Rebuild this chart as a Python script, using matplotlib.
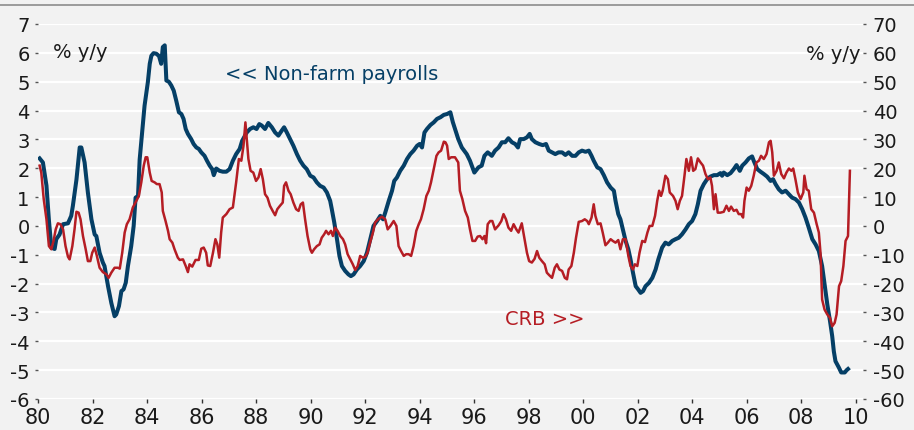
import numpy as np
import matplotlib
matplotlib.use("Agg")
import matplotlib.pyplot as plt
from matplotlib.lines import Line2D

plt.rcParams['axes.unicode_minus'] = False
plt.rcParams['font.family'] = ['DejaVu Sans']

# Non-farm payrolls, % y/y (left axis)
nfp_year = [1980.06, 1980.18, 1980.31, 1980.40, 1980.49, 1980.61, 1980.67, 1980.79, 1980.92, 1981.10,
            1981.22, 1981.28, 1981.41, 1981.53, 1981.59, 1981.71, 1981.83, 1981.96, 1982.08, 1982.14,
            1982.26, 1982.38, 1982.44, 1982.57, 1982.69, 1982.81, 1982.87, 1982.97, 1983.06, 1983.14,
            1983.22, 1983.30, 1983.42, 1983.51, 1983.58, 1983.67, 1983.73, 1983.83, 1983.91, 1984.03,
            1984.10, 1984.16, 1984.24, 1984.34, 1984.44, 1984.52, 1984.58, 1984.65, 1984.71, 1984.80,
            1984.89, 1984.98, 1985.07, 1985.17, 1985.26, 1985.34, 1985.42, 1985.50, 1985.62, 1985.71,
            1985.81, 1985.90, 1985.99, 1986.11, 1986.20, 1986.30, 1986.39, 1986.45, 1986.54, 1986.66,
            1986.78, 1986.91, 1987.03, 1987.15, 1987.27, 1987.40, 1987.49, 1987.66, 1987.78, 1987.90,
            1988.02, 1988.12, 1988.21, 1988.33, 1988.45, 1988.58, 1988.70, 1988.82, 1988.94, 1989.03,
            1989.13, 1989.25, 1989.37, 1989.50, 1989.62, 1989.74, 1989.86, 1989.99, 1990.11, 1990.23,
            1990.35, 1990.48, 1990.60, 1990.72, 1990.78, 1990.87, 1990.97, 1991.06, 1991.15, 1991.27,
            1991.39, 1991.48, 1991.58, 1991.70, 1991.82, 1991.95, 1992.07, 1992.19, 1992.31, 1992.44,
            1992.56, 1992.66, 1992.74, 1992.87, 1992.99, 1993.07, 1993.17, 1993.29, 1993.42, 1993.54,
            1993.66, 1993.78, 1993.91, 1994.00, 1994.09, 1994.18, 1994.27, 1994.40, 1994.52, 1994.64,
            1994.77, 1994.89, 1995.01, 1995.13, 1995.22, 1995.30, 1995.42, 1995.55, 1995.73, 1995.85,
            1996.01, 1996.16, 1996.28, 1996.38, 1996.50, 1996.65, 1996.77, 1996.90, 1997.02, 1997.14,
            1997.26, 1997.39, 1997.51, 1997.61, 1997.69, 1997.82, 1997.94, 1998.04, 1998.12, 1998.25,
            1998.39, 1998.52, 1998.64, 1998.74, 1998.86, 1998.98, 1999.10, 1999.23, 1999.35, 1999.47,
            1999.60, 1999.72, 1999.84, 1999.96, 2000.09, 2000.21, 2000.31, 2000.39, 2000.52, 2000.64,
            2000.76, 2000.88, 2001.01, 2001.13, 2001.19, 2001.29, 2001.37, 2001.46, 2001.56, 2001.66,
            2001.74, 2001.83, 2001.93, 2002.02, 2002.11, 2002.20, 2002.29, 2002.42, 2002.54, 2002.66,
            2002.76, 2002.85, 2002.90, 2003.02, 2003.14, 2003.27, 2003.39, 2003.51, 2003.63, 2003.76,
            2003.88, 2004.00, 2004.12, 2004.21, 2004.31, 2004.43, 2004.55, 2004.67, 2004.80, 2004.92,
            2005.04, 2005.10, 2005.16, 2005.29, 2005.41, 2005.53, 2005.63, 2005.75, 2005.84, 2005.96,
            2006.08, 2006.20, 2006.26, 2006.39, 2006.51, 2006.63, 2006.75, 2006.88, 2006.97, 2007.06,
            2007.18, 2007.30, 2007.43, 2007.55, 2007.67, 2007.79, 2007.92, 2008.04, 2008.16, 2008.28,
            2008.41, 2008.53, 2008.65, 2008.77, 2008.87, 2008.96, 2009.06, 2009.14, 2009.20, 2009.26,
            2009.39, 2009.47, 2009.60, 2009.67, 2009.72]
nfp_val = [2.34, 2.20, 1.40, 0.20, -0.75, -0.80, -0.46, -0.30, 0.06, 0.09,
           0.35, 0.70, 1.60, 2.72, 2.72, 2.20, 1.16, 0.23, -0.30, -0.35,
           -0.93, -1.27, -1.39, -2.09, -2.67, -3.13, -3.07, -2.78, -2.26, -2.20,
           -1.97, -1.39, -0.70, 0.00, 0.98, 1.04, 2.30, 3.36, 4.17, 4.98,
           5.62, 5.90, 5.99, 5.97, 5.89, 5.62, 6.20, 6.26, 5.04, 5.00,
           4.87, 4.69, 4.35, 3.94, 3.88, 3.71, 3.36, 3.19, 3.01, 2.84,
           2.72, 2.67, 2.55, 2.43, 2.26, 2.09, 1.97, 1.76, 1.99, 1.91,
           1.88, 1.88, 1.97, 2.26, 2.49, 2.67, 2.95, 3.24, 3.36, 3.42,
           3.36, 3.53, 3.48, 3.36, 3.57, 3.42, 3.24, 3.13, 3.30, 3.42,
           3.24, 3.01, 2.78, 2.49, 2.26, 2.09, 1.97, 1.74, 1.68, 1.51,
           1.39, 1.33, 1.16, 0.87, 0.58, 0.12, -0.46, -1.04, -1.39, -1.56,
           -1.68, -1.74, -1.68, -1.51, -1.39, -1.22, -0.93, -0.46, 0.00, 0.17,
           0.35, 0.23, 0.46, 0.87, 1.22, 1.56, 1.68, 1.91, 2.09, 2.32,
           2.49, 2.61, 2.78, 2.84, 2.72, 3.24, 3.36, 3.50, 3.59, 3.71,
           3.77, 3.85, 3.88, 3.94, 3.60, 3.36, 3.01, 2.72, 2.49, 2.26,
           1.85, 2.03, 2.09, 2.43, 2.55, 2.43, 2.61, 2.72, 2.90, 2.90,
           3.04, 2.90, 2.84, 2.72, 3.01, 3.01, 3.07, 3.19, 3.01, 2.90,
           2.84, 2.80, 2.84, 2.61, 2.55, 2.49, 2.55, 2.55, 2.46, 2.55,
           2.43, 2.43, 2.55, 2.61, 2.57, 2.61, 2.43, 2.26, 2.03, 1.97,
           1.76, 1.51, 1.33, 1.22, 0.87, 0.41, 0.23, -0.12, -0.52, -0.81,
           -1.16, -1.62, -2.09, -2.20, -2.32, -2.26, -2.09, -1.97, -1.80, -1.51,
           -1.16, -0.90, -0.75, -0.58, -0.64, -0.52, -0.46, -0.41, -0.29, -0.12,
           0.06, 0.17, 0.41, 0.75, 1.22, 1.45, 1.62, 1.71, 1.76, 1.76,
           1.83, 1.74, 1.85, 1.76, 1.83, 1.97, 2.11, 1.91, 2.09, 2.20,
           2.34, 2.41, 2.26, 1.97, 1.88, 1.80, 1.71, 1.56, 1.62, 1.45,
           1.27, 1.16, 1.22, 1.10, 0.98, 0.93, 0.81, 0.58, 0.29, -0.06,
           -0.46, -0.64, -0.87, -1.39, -2.09, -2.72, -3.30, -3.82, -4.35, -4.69,
           -4.92, -5.08, -5.08, -5.00, -4.96]

# CRB index, % y/y (right axis)
crb_year = [1980.06, 1980.12, 1980.21, 1980.31, 1980.40, 1980.49, 1980.57, 1980.65, 1980.73, 1980.82,
            1980.92, 1981.01, 1981.10, 1981.16, 1981.26, 1981.34, 1981.41, 1981.49, 1981.56, 1981.65,
            1981.75, 1981.83, 1981.92, 1981.99, 1982.08, 1982.16, 1982.26, 1982.38, 1982.51, 1982.59,
            1982.69, 1982.81, 1982.93, 1983.00, 1983.09, 1983.18, 1983.26, 1983.36, 1983.48, 1983.61,
            1983.70, 1983.79, 1983.88, 1983.95, 1984.01, 1984.10, 1984.17, 1984.28, 1984.36, 1984.46,
            1984.54, 1984.58, 1984.68, 1984.77, 1984.83, 1984.93, 1985.01, 1985.13, 1985.20, 1985.32,
            1985.42, 1985.50, 1985.56, 1985.66, 1985.78, 1985.90, 1985.99, 1986.08, 1986.17, 1986.23,
            1986.32, 1986.42, 1986.51, 1986.58, 1986.65, 1986.72, 1986.78, 1986.91, 1987.03, 1987.15,
            1987.27, 1987.37, 1987.46, 1987.54, 1987.61, 1987.66, 1987.72, 1987.80, 1987.90, 1988.00,
            1988.09, 1988.17, 1988.25, 1988.33, 1988.42, 1988.51, 1988.61, 1988.70, 1988.78, 1988.88,
            1988.98, 1989.03, 1989.10, 1989.19, 1989.27, 1989.37, 1989.47, 1989.56, 1989.64, 1989.72,
            1989.80, 1989.89, 1989.99, 1990.05, 1990.13, 1990.23, 1990.33, 1990.41, 1990.50, 1990.57,
            1990.66, 1990.75, 1990.82, 1990.90, 1990.99, 1991.09, 1991.19, 1991.27, 1991.36, 1991.46,
            1991.55, 1991.64, 1991.73, 1991.82, 1991.92, 1992.01, 1992.09, 1992.19, 1992.29, 1992.37,
            1992.50, 1992.62, 1992.74, 1992.83, 1992.93, 1993.05, 1993.15, 1993.23, 1993.32, 1993.42,
            1993.51, 1993.60, 1993.69, 1993.78, 1993.88, 1993.97, 1994.05, 1994.15, 1994.25, 1994.34,
            1994.42, 1994.52, 1994.62, 1994.70, 1994.79, 1994.89, 1994.95, 1995.01, 1995.07, 1995.16,
            1995.30, 1995.42, 1995.48, 1995.57, 1995.67, 1995.77, 1995.85, 1995.94, 1996.04, 1996.13,
            1996.22, 1996.31, 1996.38, 1996.44, 1996.50, 1996.59, 1996.67, 1996.77, 1996.90, 1997.00,
            1997.08, 1997.17, 1997.26, 1997.36, 1997.45, 1997.55, 1997.63, 1997.75, 1997.85, 1997.94,
            1998.02, 1998.12, 1998.22, 1998.31, 1998.39, 1998.49, 1998.59, 1998.67, 1998.76, 1998.86,
            1998.96, 1999.04, 1999.13, 1999.23, 1999.33, 1999.41, 1999.47, 1999.57, 1999.66, 1999.74,
            1999.84, 1999.96, 2000.06, 2000.15, 2000.21, 2000.31, 2000.39, 2000.45, 2000.54, 2000.64,
            2000.72, 2000.82, 2000.91, 2001.01, 2001.09, 2001.19, 2001.29, 2001.37, 2001.46, 2001.56,
            2001.66, 2001.74, 2001.83, 2001.90, 2001.99, 2002.07, 2002.17, 2002.27, 2002.36, 2002.44,
            2002.54, 2002.64, 2002.72, 2002.79, 2002.86, 2002.92, 2003.02, 2003.11, 2003.18, 2003.30,
            2003.39, 2003.47, 2003.55, 2003.63, 2003.72, 2003.79, 2003.88, 2003.96, 2004.04, 2004.12,
            2004.21, 2004.31, 2004.40, 2004.49, 2004.58, 2004.67, 2004.73, 2004.80, 2004.86, 2004.94,
            2005.04, 2005.16, 2005.26, 2005.35, 2005.43, 2005.53, 2005.63, 2005.71, 2005.80, 2005.87,
            2005.92, 2006.00, 2006.08, 2006.17, 2006.26, 2006.36, 2006.45, 2006.53, 2006.63, 2006.73,
            2006.82, 2006.88, 2006.94, 2007.00, 2007.10, 2007.18, 2007.27, 2007.37, 2007.46, 2007.55,
            2007.64, 2007.71, 2007.79, 2007.88, 2007.98, 2008.08, 2008.12, 2008.20, 2008.28, 2008.37,
            2008.47, 2008.57, 2008.65, 2008.71, 2008.77, 2008.86, 2008.96, 2009.06, 2009.14, 2009.23,
            2009.30, 2009.39, 2009.47, 2009.55, 2009.63, 2009.72, 2009.79]
crb_val = [20.9, 18.5, 9.3, 2.3, -7.0, -8.1, -5.2, -1.2, 0.9, 0.6,
           -1.2, -7.0, -10.7, -11.6, -7.0, -1.2, 4.9, 4.6, 2.3, -3.5,
           -8.1, -12.2, -12.2, -9.3, -7.5, -10.4, -14.5, -16.0, -16.8, -18.0,
           -16.2, -14.5, -14.5, -14.8, -9.3, -2.3, 0.6, 2.3, 6.4, 8.7,
           10.4, 15.1, 20.9, 23.8, 23.8, 18.5, 15.6, 15.1, 14.5, 14.5,
           11.6, 5.2, 1.7, -1.7, -4.6, -5.8, -8.1, -11.0, -11.8, -11.6,
           -13.9, -16.0, -13.3, -14.1, -11.8, -11.8, -7.9, -7.5, -9.3, -13.7,
           -13.9, -9.3, -4.6, -6.4, -11.0, -2.3, 2.9, 4.1, 5.8, 6.4,
           15.1, 23.2, 22.6, 27.8, 35.9, 30.1, 23.2, 19.1, 18.5, 15.6,
           16.8, 19.7, 16.2, 11.0, 9.8, 7.0, 5.2, 3.7, 5.8, 7.0,
           8.1, 13.9, 15.1, 12.2, 11.0, 8.1, 5.8, 5.2, 7.5, 8.1,
           2.3, -3.5, -8.1, -9.3, -8.1, -7.0, -6.4, -4.1, -2.9, -1.7,
           -2.9, -1.7, -3.5, -0.6, -1.7, -3.5, -4.6, -6.4, -9.8, -11.6,
           -13.3, -15.3, -13.9, -10.4, -11.0, -10.7, -9.3, -5.6, -2.3, 1.2,
           2.5, 3.2, 2.3, -1.2, 0.0, 1.7, 0.0, -7.0, -8.7, -10.4,
           -9.8, -9.8, -10.4, -7.0, -1.7, 0.6, 2.3, 5.8, 10.4, 12.2,
           15.1, 19.7, 24.3, 25.5, 26.1, 29.2, 29.0, 27.8, 23.2, 23.8,
           23.8, 22.0, 12.2, 9.3, 5.2, 2.9, -1.2, -5.2, -5.2, -3.7,
           -3.5, -4.6, -3.5, -6.0, 0.6, 1.7, 1.7, -1.2, 0.2, 1.7,
           4.1, 2.3, -0.6, -1.7, 0.6, -1.2, -2.3, 0.9, -4.4, -9.3,
           -12.2, -12.7, -11.4, -8.7, -11.0, -12.2, -13.3, -16.2, -17.1, -18.0,
           -14.5, -13.3, -15.1, -15.6, -18.0, -18.5, -15.1, -13.9, -9.3, -4.1,
           1.4, 1.7, 2.3, 1.7, 0.6, 2.9, 7.5, 3.5, 0.6, 0.9,
           -2.3, -6.7, -5.8, -4.6, -5.2, -5.8, -4.9, -8.1, -4.6, -4.6,
           -10.4, -13.9, -15.1, -13.3, -13.9, -9.3, -5.2, -5.6, -2.3, 0.0,
           0.0, 3.5, 8.7, 12.2, 10.4, 12.2, 17.4, 16.2, 11.6, 10.4,
           8.7, 5.8, 8.7, 10.4, 17.4, 23.2, 19.1, 23.8, 19.1, 19.7,
           23.4, 22.0, 20.9, 18.0, 16.2, 16.8, 13.9, 5.8, 11.0, 4.6,
           4.6, 4.9, 7.0, 5.2, 6.7, 5.2, 5.6, 4.1, 4.1, 2.9,
           8.7, 13.3, 12.2, 13.9, 17.4, 22.0, 22.6, 24.3, 23.2, 24.9,
           29.0, 29.5, 25.5, 17.4, 19.1, 22.0, 18.0, 16.5, 18.5, 19.9,
           19.1, 19.9, 16.2, 11.6, 9.3, 11.6, 17.4, 12.7, 12.2, 5.8,
           4.6, 0.6, -2.3, -9.3, -25.5, -29.0, -30.7, -31.9, -34.8, -33.6,
           -30.7, -20.9, -19.1, -13.9, -5.2, -3.5, 19.1]

years = list(range(1980, 2011, 2))
year_labels = ['%02d' % (y % 100) for y in years]

blue = '#053f66'
red = '#b51d24'
bg = '#f2f2f2'
txt = '#1a1a1a'

fig = plt.figure(figsize=(9.14, 4.31), dpi=100, facecolor=bg)
ax = fig.add_axes([38/914, 1-400/431, (863-38)/914, (400-25)/431])
ax.set_facecolor(bg)
ax2 = ax.twinx()
ax2.patch.set_visible(False)

for s in list(ax.spines.values()) + list(ax2.spines.values()):
    s.set_visible(False)

ax.set_xlim(1980, 2010.27)
ax.set_ylim(-6, 7)
ax2.set_ylim(-60, 70)
ax.set_yticks(np.arange(-6, 8, 1))
ax2.set_yticks(np.arange(-60, 80, 10))
ax.set_xticks(years)
ax.set_xticklabels(year_labels)

ax.grid(axis='y', color='white', linewidth=1.6)
ax.set_axisbelow(True)

ax.tick_params(axis='y', length=2, width=1, color='#555555', pad=4, labelsize=14, labelcolor=txt)
ax2.tick_params(axis='y', length=2, width=1, color='#555555', pad=5, labelsize=14, labelcolor=txt)
ax.tick_params(axis='x', length=3, width=1, color='#333333', pad=2.5, labelsize=15, labelcolor=txt)

ax.plot(nfp_year, nfp_val, color=blue, linewidth=2.9, solid_joinstyle='round', zorder=3)
ax2.plot(crb_year, crb_val, color=red, linewidth=1.8, solid_joinstyle='round', zorder=4)

fig.text(53/914, 1-52/431, '% y/y', fontsize=14, color=txt, ha='left', va='center')
fig.text(861/914, 1-55/431, '% y/y', fontsize=14, color=txt, ha='right', va='center')
fig.text(225/914, 1-75/431, '<< Non-farm payrolls', fontsize=14, color=blue, ha='left', va='center')
fig.text(505/914, 1-320/431, 'CRB >>', fontsize=14, color=red, ha='left', va='center')

fig.add_artist(Line2D([0, 1], [1-5.5/431, 1-5.5/431], color='#8c8c8c', linewidth=1.2))

fig.savefig('out.png', dpi=100, facecolor=bg)
